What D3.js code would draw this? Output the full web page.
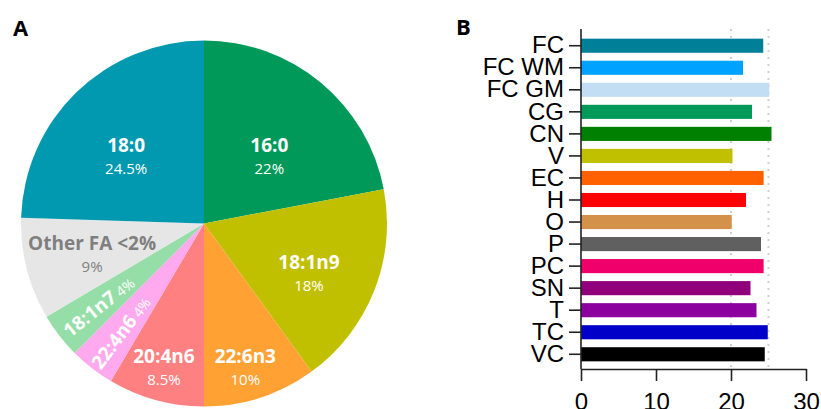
<!DOCTYPE html>
<html>
<head>
<meta charset="utf-8">
<script src="https://cdn.jsdelivr.net/npm/d3@7"></script>
<style>
  body { margin: 0; background: #fff; }
  svg { display: block; }
</style>
</head>
<body>
<div class="container"></div>
<script>
// pie data (panel A), clockwise from 12 o'clock
const pieNames = ["16:0", "18:1n9", "22:6n3", "20:4n6", "22:4n6", "18:1n7", "Other FA <2%", "18:0"];
const pieValues = [22, 18, 10, 8.5, 4, 4, 9, 24.5];
const pieValueLabels = ["22%", "18%", "10%", "8.5%", "4%", "4%", "9%", "24.5%"];
const pieColors = ["#00995a", "#c0c000", "#ffa133", "#ff8080", "#ffaaee", "#96dea8", "#e6e6e6", "#0099b0"];

// bar data (panel B)
const regions = ["FC", "FC WM", "FC GM", "CG", "CN", "V", "EC", "H", "O", "P", "PC", "SN", "T", "TC", "VC"];
const regionValues = [24.3, 21.6, 25.1, 22.8, 25.4, 20.2, 24.35, 22.0, 20.1, 24.0, 24.35, 22.6, 23.4, 24.9, 24.5];
const regionColors = ["#007f99", "#00a2ff", "#c2def5", "#00995a", "#008000", "#c0c000", "#ff6000", "#ff0000",
                      "#d4914a", "#606060", "#f0006a", "#90007a", "#8c00a0", "#0000c8", "#000000"];
const xTicks = [0, 10, 20, 30];
const refLines = [20, 25];

const W = 821, H = 409;
const svg = d3.select(".container").append("svg")
    .attr("width", W).attr("height", H);

const pieFont = "'Open Sans', 'Noto Sans', sans-serif";
const axisFont = "'Liberation Sans', Arial, sans-serif";

// panel letters
svg.append("text").attr("x", 13).attr("y", 36).text("A")
    .style("font-family", pieFont).style("font-weight", 700).style("font-size", "22px");
svg.append("text").attr("x", 456).attr("y", 35).text("B")
    .style("font-family", pieFont).style("font-weight", 700).style("font-size", "22px");

/** PIE */
const cx = 204, cy = 223.5, R = 183;
const pieG = svg.append("g").attr("transform", `translate(${cx},${cy})`);

const pie = d3.pie().sort(null).value(d => d);
const arcs = pie(pieValues);
const arc = d3.arc().innerRadius(0).outerRadius(R);

pieG.selectAll("path.slice")
    .data(arcs)
    .enter()
    .append("path")
    .attr("class", "slice")
    .attr("d", arc)
    .attr("fill", (d, i) => pieColors[i]);

// label radius and small angle nudge (degrees) per slice
const labelR = [94, 116, 149, 149, 137, 134, 116, 103];
const labelNudge = [4.4, 3.6, 1.9, 0.3, -1, -1, -0.8, -5];
const rotated = [false, false, false, false, true, true, false, false];

arcs.forEach((a, i) => {
    const mid = (a.startAngle + a.endAngle) / 2 + labelNudge[i] * Math.PI / 180;
    const px = labelR[i] * Math.sin(mid);
    const py = -labelR[i] * Math.cos(mid);
    const fill = i === 6 ? "#7f7f7f" : "#fff";
    if (rotated[i]) {
        const deg = mid * 180 / Math.PI - 270;
        const t = pieG.append("text")
            .attr("transform", `translate(${px},${py}) rotate(${deg})`)
            .attr("text-anchor", "middle")
            .attr("dy", "0.35em")
            .style("font-family", pieFont)
            .attr("fill", fill);
        t.append("tspan").text(pieNames[i])
            .style("font-weight", 700).style("font-size", "19px");
        t.append("tspan").text(" " + pieValueLabels[i])
            .style("font-size", "14px");
    } else {
        pieG.append("text")
            .attr("x", px).attr("y", py - 4)
            .attr("text-anchor", "middle")
            .style("font-family", pieFont)
            .style("font-weight", 700)
            .style("font-size", "19px")
            .attr("fill", fill)
            .text(pieNames[i]);
        pieG.append("text")
            .attr("x", px).attr("y", py + 18)
            .attr("text-anchor", "middle")
            .style("font-family", pieFont)
            .style("font-size", "15px")
            .attr("fill", fill)
            .text(pieValueLabels[i]);
    }
});

/** BARS */
const x = d3.scaleLinear().domain([0, 30]).range([581, 806]);
const y = d3.scaleBand().domain(regions).range([34.7, 365.3])
    .paddingInner(0.36).paddingOuter(0.18);
const axisY0 = 29, axisY1 = 369;

svg.selectAll("line.ref")
    .data(refLines)
    .enter()
    .append("line")
    .attr("class", "ref")
    .attr("x1", d => x(d)).attr("x2", d => x(d))
    .attr("y1", axisY0).attr("y2", axisY1)
    .attr("stroke", "#cfcfcf")
    .attr("stroke-width", 2)
    .attr("stroke-dasharray", "2,5");

svg.selectAll("rect.bar")
    .data(regionValues)
    .enter()
    .append("rect")
    .attr("class", "bar")
    .attr("x", x(0))
    .attr("y", (d, i) => y(regions[i]))
    .attr("width", d => x(d) - x(0))
    .attr("height", y.bandwidth())
    .attr("fill", (d, i) => regionColors[i]);

const yAxis = d3.axisLeft(y).tickSize(12).tickSizeOuter(0).tickPadding(5);
const yG = svg.append("g").attr("transform", `translate(${x(0)},0)`).call(yAxis);
yG.select(".domain").remove();
yG.append("line").attr("x1", 0).attr("x2", 0).attr("y1", axisY0).attr("y2", axisY1)
    .attr("stroke", "#222").attr("stroke-width", 1.6);

const xAxis = d3.axisBottom(x).tickValues(xTicks).tickSize(12).tickSizeOuter(0).tickPadding(12);
const xG = svg.append("g").attr("transform", `translate(0,${axisY1})`).call(xAxis);

[yG, xG].forEach(g => {
    g.selectAll(".tick line").attr("stroke", "#222").attr("stroke-width", 1.6);
    g.selectAll(".domain").attr("stroke", "#222").attr("stroke-width", 1.6);
    g.selectAll("text").attr("fill", "#000")
        .style("font-family", axisFont).style("font-size", "24px");
});
</script>
</body>
</html>
